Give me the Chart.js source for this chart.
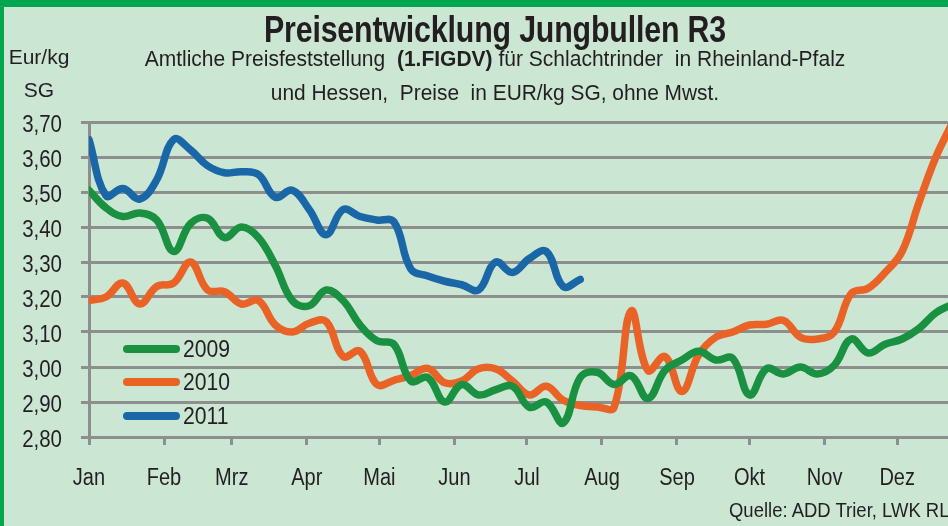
<!DOCTYPE html>
<html>
<head>
<meta charset="utf-8">
<script src="https://cdn.jsdelivr.net/npm/chart.js@4.4.0/dist/chart.umd.min.js"></script>
<style>
html,body{margin:0;padding:0;}
body{width:948px;height:526px;overflow:hidden;background:#CCE6D4;position:relative;
  font-family:'Liberation Sans',Arial,sans-serif;color:#231F20;}
#frameTop{position:absolute;left:0;top:0;width:948px;height:7px;background:#00A650;z-index:3;}
#frameLeft{position:absolute;left:0;top:0;width:4px;height:526px;background:#00A650;z-index:3;}
#wrap{position:absolute;left:0;top:0;width:948px;height:526px;}
.t{position:absolute;white-space:nowrap;line-height:1;}
#title{left:0;width:990px;text-align:center;top:11px;font-size:37px;font-weight:bold;transform:scaleX(0.82);transform-origin:495px 0;letter-spacing:-0.2px;}
#sub1{left:0;width:990px;text-align:center;top:48px;font-size:22px;transform:scaleX(0.955);transform-origin:495px 0;}
#sub2{left:0;width:990px;text-align:center;top:82px;font-size:22px;transform:scaleX(0.95);transform-origin:495px 0;}
#unit{left:0;width:78px;text-align:center;top:40px;font-size:21px;line-height:33px;}
#source{left:729px;top:499px;font-size:21px;transform:scaleX(0.88);transform-origin:0 0;}
</style>
</head>
<body>
<div id="frameTop"></div>
<div id="frameLeft"></div>
<div id="wrap"><canvas id="c" width="948" height="526"></canvas></div>
<div class="t" id="title">Preisentwicklung Jungbullen R3</div>
<div class="t" id="sub1">Amtliche Preisfeststellung&nbsp; <b>(1.FIGDV)</b> für Schlachtrinder&nbsp; in Rheinland-Pfalz</div>
<div class="t" id="sub2">und Hessen,&nbsp; Preise&nbsp; in EUR/kg SG, ohne Mwst.</div>
<div class="t" id="unit">Eur/kg<br>SG</div>
<div class="t" id="source">Quelle: ADD Trier, LWK RLP</div>
<script>
// ---- data ----
const monthLabels = ['Jan','Feb','Mrz','Apr','Mai','Jun','Jul','Aug','Sep','Okt','Nov','Dez'];
const monthStartDays = [0,31,59,90,120,151,181,212,243,273,304,334];
const seriesNames = ['2009','2010','2011'];
const daysPerWeek = 7;
const prices2009 = [3.505,3.455,3.43,3.44,3.42,3.33,3.41,3.425,3.37,3.40,3.37,3.29,3.19,3.175,3.22,3.19,3.12,3.075,3.065,2.96,2.97,2.90,2.95,2.92,2.935,2.945,2.885,2.90,2.84,2.97,2.985,2.95,2.975,2.91,2.99,3.02,3.045,3.02,3.025,2.92,2.995,2.98,3.00,2.98,3.005,3.08,3.04,3.065,3.08,3.11,3.155,3.18];
const prices2010 = [3.19,3.20,3.24,3.18,3.23,3.24,3.30,3.22,3.215,3.18,3.19,3.12,3.10,3.125,3.13,3.03,3.045,2.95,2.962,2.976,2.996,2.955,2.96,2.995,2.995,2.96,2.92,2.945,2.905,2.89,2.886,2.885,3.16,2.99,3.03,2.93,3.035,3.085,3.10,3.12,3.122,3.133,3.085,3.08,3.10,3.21,3.225,3.27,3.33,3.47,3.60,3.70];
const prices2011 = [3.65,3.49,3.51,3.48,3.535,3.65,3.62,3.575,3.555,3.558,3.55,3.485,3.505,3.45,3.378,3.45,3.43,3.42,3.415,3.28,3.26,3.245,3.235,3.22,3.30,3.27,3.31,3.33,3.23,3.25];
const seriesColors = ['#1A9041','#E96327','#1A67A8'];
const yMin = 2.80, yMax = 3.70, yStep = 0.10;
const xMax = 355;

const toPoints = arr => arr.map((v,i)=>({x:i*daysPerWeek, y:v}));
const allSeries = [prices2009, prices2010, prices2011];

const FONT = "'Liberation Sans',Arial,sans-serif";
const GRID = '#8E8E8E';
const TEXT = '#231F20';

function narrowText(ctx, text, x, y, sx, align){
  ctx.save();
  ctx.translate(x, y);
  ctx.scale(sx, 1);
  ctx.textAlign = align;
  ctx.textBaseline = 'alphabetic';
  ctx.fillText(text, 0, 0);
  ctx.restore();
}

const textPlugin = {
  id:'narrowLabels',
  afterDraw(chart){
    const ctx = chart.ctx;
    ctx.save();
    ctx.fillStyle = TEXT;
    ctx.font = '23px ' + FONT;
    const ys = chart.scales.y;
    ys.ticks.forEach(t=>{
      const py = ys.getPixelForValue(t.value);
      narrowText(ctx, t.value.toFixed(2).replace('.',','), 62, py + 10, 0.89, 'right');
    });
    const xs = chart.scales.x;
    xs.ticks.forEach(t=>{
      const px = xs.getPixelForValue(t.value);
      narrowText(ctx, monthLabels[monthStartDays.indexOf(t.value)], px, 485, 0.87, 'center');
    });
    // legend inside plot
    const ly = [349, 382, 416];
    chart.data.datasets.forEach((ds,i)=>{
      ctx.strokeStyle = ds.borderColor;
      ctx.lineWidth = 8;
      ctx.lineCap = 'round';
      ctx.beginPath();
      ctx.moveTo(127, ly[i]);
      ctx.lineTo(176, ly[i]);
      ctx.stroke();
      narrowText(ctx, ds.label, 183, ly[i] + 8.3, 0.92, 'left');
    });
    ctx.restore();
  }
};

new Chart(document.getElementById('c'), {
  type:'line',
  data:{
    datasets: allSeries.map((arr,i)=>({
      label: seriesNames[i],
      data: toPoints(arr),
      borderColor: seriesColors[i],
      backgroundColor: seriesColors[i],
      borderWidth: 7.5,
      pointRadius: 0,
      tension: 0.4,
      borderCapStyle:'round',
      borderJoinStyle:'round',
      fill:false
    }))
  },
  options:{
    responsive:false,
    animation:false,
    events:[],
    layout:{padding:{top:122,left:0,right:0,bottom:0}},
    plugins:{legend:{display:false}, title:{display:false}, tooltip:{enabled:false}},
    scales:{
      x:{
        type:'linear', min:0, max:xMax,
        afterFit(s){ s.height = 89; },
        afterBuildTicks(s){ s.ticks = monthStartDays.map(v=>({value:v})); },
        ticks:{
          autoSkip:false, maxRotation:0, padding:21,
          color:'rgba(0,0,0,0)', font:{family:FONT, size:23},
          callback:(v)=>monthLabels[monthStartDays.indexOf(v)]
        },
        grid:{drawOnChartArea:false, drawTicks:true, tickLength:8, color:GRID, lineWidth:3},
        border:{display:true, color:GRID, width:3}
      },
      y:{
        min:yMin, max:yMax,
        afterFit(s){ s.width = 89; },
        ticks:{
          stepSize:yStep, padding:19, color:'rgba(0,0,0,0)', font:{family:FONT, size:23},
          callback:(v)=>v.toFixed(2).replace('.',',')
        },
        grid:{color:GRID, lineWidth:3, tickLength:8, drawTicks:true},
        border:{display:true, color:GRID, width:3}
      }
    }
  },
  plugins:[textPlugin]
});
</script>
</body>
</html>
